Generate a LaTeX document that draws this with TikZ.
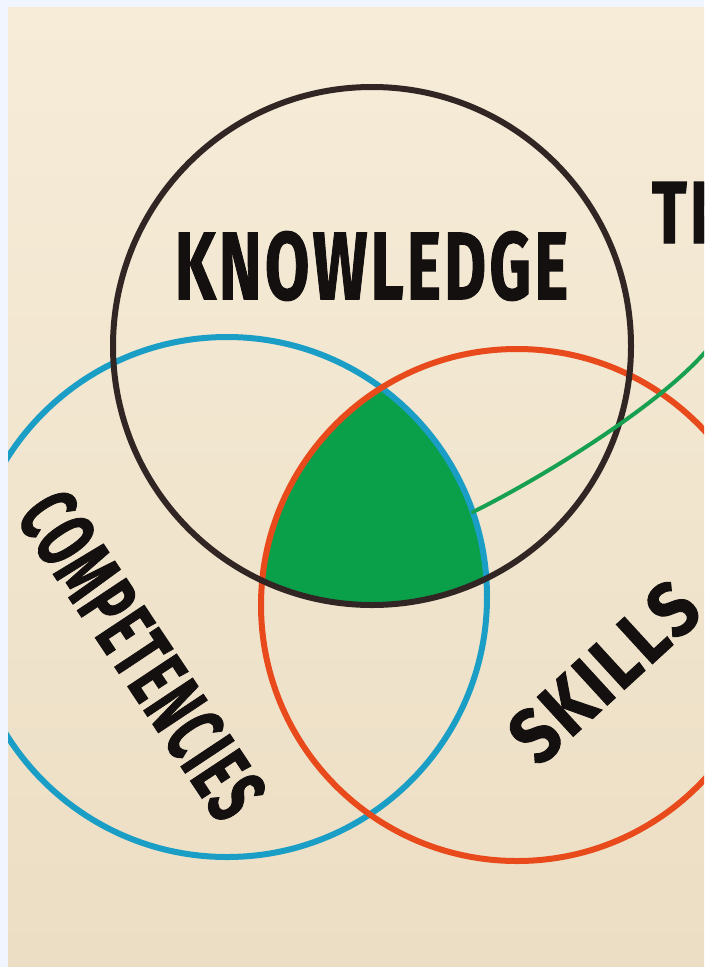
\documentclass[tikz,border=0pt]{standalone}
\usepackage{fontspec}
\setmainfont{Fira Sans}
\newfontfamily\markerfam{Fira Sans}[BoldFeatures={FakeBold=1.3}, LetterSpace=5]
\usepackage{graphicx}
\definecolor{frame}{RGB}{240,245,255}
\definecolor{papertop}{RGB}{246,236,216}
\definecolor{paperbot}{RGB}{236,222,196}
\definecolor{kcol}{RGB}{50,38,36}
\definecolor{ccol}{RGB}{26,158,198}
\definecolor{scol}{RGB}{232,74,28}
\definecolor{gfill}{RGB}{10,160,74}
\definecolor{gline}{RGB}{22,160,80}
\definecolor{ink}{RGB}{20,16,16}
\tikzset{
  ring/.style={line width=4.5pt},
  word/.style={inner sep=0pt, outer sep=0pt, text=ink, font=\markerfam\bfseries},
  pointer/.style={gline, line width=3pt, line cap=round}
}
\begin{document}
\begin{tikzpicture}[x=0.75pt,y=-0.75pt]
\useasboundingbox (0,0) rectangle (704,967);
\fill[frame] (0,0) rectangle (704,967);
\shade[top color=papertop, bottom color=paperbot] (8,7) rectangle (704,967);
\begin{scope}
\clip (8,7) rectangle (704,967);
% triple intersection
\begin{scope}
  \clip (372,346) circle (259);
  \clip (227,597) circle (260);
  \fill[gfill] (517,605) circle (256);
\end{scope}
% circles
\draw[ring, ccol] (227,597) circle (260);
\draw[ring, scol] (517,605) circle (256);
\draw[ring, kcol] (372,346) circle (259);
% labels
\node[word] (know) at (371.5,266) {\resizebox{295pt}{51pt}{KNOWLEDGE}};
\node[word, rotate=-56.4] (comp) at (142,655) {\resizebox{278pt}{45pt}{COMPETENCIES}};
\node[word, rotate=42.5] (skill) at (604,672) {\resizebox{169pt}{41pt}{SKILLS}};
\node[word, anchor=base west] (th) at (652,243) {\scalebox{0.73}[1]{\fontsize{66}{66}\selectfont TH}};
% pointer
\coordinate (gstart) at (473,512);
\coordinate (gend) at (715,340);
\draw[pointer] (gstart) .. controls (553,472) and (675,395) .. (gend);
\end{scope}
\end{tikzpicture}
\end{document}
